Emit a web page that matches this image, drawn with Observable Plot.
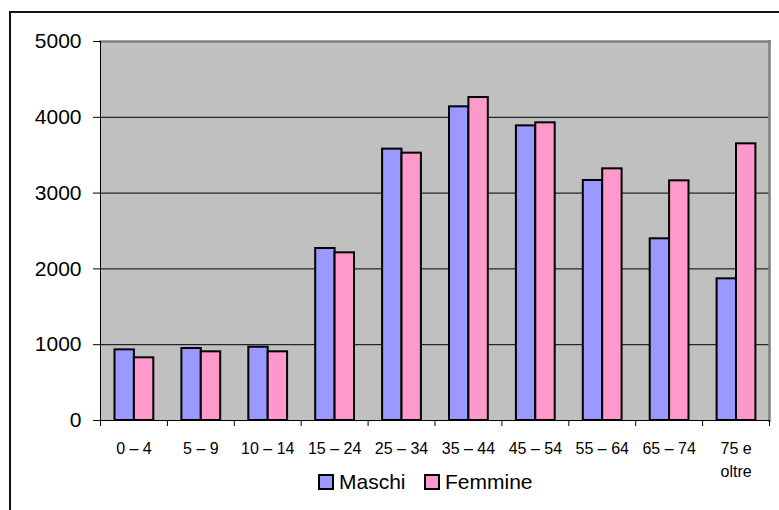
<!DOCTYPE html>
<html>
<head>
<meta charset="utf-8">
<script src="https://cdn.jsdelivr.net/npm/d3@7"></script>
<script src="https://cdn.jsdelivr.net/npm/@observablehq/plot@0.6"></script>
<style>
  html, body { margin: 0; padding: 0; background: #fff; }
  #wrap { position: relative; width: 779px; height: 510px; overflow: hidden; font-family: 'Liberation Sans', Arial, sans-serif; }
  #wrap svg { position: absolute; left: 0; top: 0; }
  #border { position: absolute; left: 9px; top: 11px; width: 900px; height: 700px; border-top: 2px solid #111; border-left: 2px solid #111; pointer-events: none; }
  .leg { position: absolute; top: 472px; display: flex; align-items: center; font-size: 21px; line-height: 20px; color: #000; }
  .sw { display: inline-block; width: 12px; height: 12px; border: 2px solid #000; margin-right: 5px; }
</style>
</head>
<body>
<div id="wrap"></div>
<script>
const categories = ["0 – 4", "5 – 9", "10 – 14", "15 – 24", "25 – 34", "35 – 44", "45 – 54", "55 – 64", "65 – 74", "75 e oltre"];
const maschi  = [932, 950, 967, 2269, 3580, 4138, 3887, 3166, 2397, 1869];
const femmine = [827, 906, 906, 2212, 3527, 4261, 3927, 3320, 3162, 3650];
const seriesNames = ["Maschi", "Femmine"];
const seriesColors = ["#9999ff", "#ff99cc"];
const yTicks = [0, 1000, 2000, 3000, 4000, 5000];
const gridValues = [1000, 2000, 3000, 4000];

const rowsM = categories.map((c, i) => ({age: c, value: maschi[i]}));
const rowsF = categories.map((c, i) => ({age: c, value: femmine[i]}));

const step = (779 - 100 - 10) / categories.length;

const plot = Plot.plot({
  width: 779,
  height: 510,
  marginTop: 41,
  marginLeft: 100,
  marginRight: 10,
  marginBottom: 90,
  style: {background: "transparent", fontFamily: "'Liberation Sans', Arial, sans-serif", color: "#000"},
  x: {domain: categories, padding: 0, round: false, label: null},
  y: {domain: [0, 5000], label: null},
  marks: [
    Plot.frame({fill: "#c0c0c0", stroke: null}),
    Plot.ruleY(gridValues, {stroke: "#000", strokeWidth: 1}),
    Plot.frame({anchor: "top", stroke: "#808080", strokeWidth: 2.5}),
    Plot.frame({anchor: "right", stroke: "#808080", strokeWidth: 2.5}),
    Plot.barY(rowsM, {x: "age", y: "value", fill: seriesColors[0], stroke: "#000", strokeWidth: 2, insetLeft: 14.5, insetRight: step - 14.5 - 19.4}),
    Plot.barY(rowsF, {x: "age", y: "value", fill: seriesColors[1], stroke: "#000", strokeWidth: 2, insetLeft: 14.5 + 19.4, insetRight: step - 14.5 - 2 * 19.4}),
    Plot.ruleY([0], {stroke: "#000", strokeWidth: 1}),
    Plot.frame({anchor: "left", stroke: "#000", strokeWidth: 1}),
    Plot.ruleX(categories, {x: d => d, dx: -step / 2, y1: 0, y2: 0, insetBottom: -6, stroke: "#000"}),
    Plot.ruleX([categories[categories.length - 1]], {x: d => d, dx: step / 2, y1: 0, y2: 0, insetBottom: -6, stroke: "#000"}),
    Plot.axisY({ticks: yTicks, tickFormat: d => String(d), tickSize: 7, tickPadding: 12, fontSize: 21, stroke: "#000", label: null}),
    Plot.axisX({tickSize: 0, tickPadding: 17, fontSize: 16, lineHeight: 1.44, label: null, tickFormat: d => d === "75 e oltre" ? "75 e\noltre" : d})
  ]
});

const wrap = document.getElementById("wrap");
wrap.appendChild(plot);

const legendLefts = [318, 424];
seriesNames.forEach((name, i) => {
  const item = document.createElement("div");
  item.className = "leg";
  item.style.left = legendLefts[i] + "px";
  const sw = document.createElement("span");
  sw.className = "sw";
  sw.style.background = seriesColors[i];
  const label = document.createElement("span");
  label.textContent = name;
  item.appendChild(sw);
  item.appendChild(label);
  wrap.appendChild(item);
});

const border = document.createElement("div");
border.id = "border";
wrap.appendChild(border);
</script>
</body>
</html>
